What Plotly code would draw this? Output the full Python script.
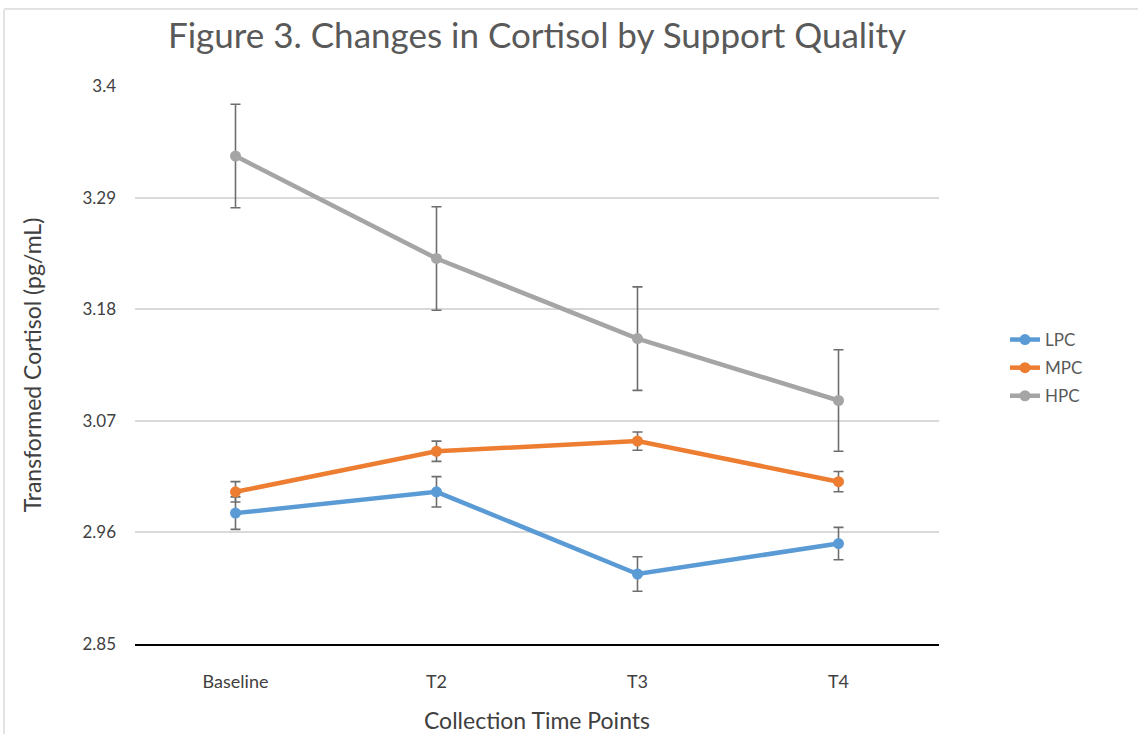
import plotly.graph_objects as go

categories = ["Baseline", "T2", "T3", "T4"]
lpc = [2.979, 3.000, 2.919, 2.949]
lpc_err = [0.016, 0.015, 0.017, 0.016]
mpc = [3.000, 3.040, 3.050, 3.010]
mpc_err = [0.010, 0.010, 0.009, 0.010]
hpc = [3.331, 3.230, 3.151, 3.090]
hpc_err = [0.051, 0.051, 0.051, 0.050]
y_ticks = [2.85, 2.96, 3.07, 3.18, 3.29, 3.4]
y_labels = ["2.85", "2.96", "3.07", "3.18", "3.29", "3.4"]

series = [("LPC", lpc, lpc_err, "#5b9bd5"),
          ("MPC", mpc, mpc_err, "#ed7d31"),
          ("HPC", hpc, hpc_err, "#a5a5a5")]

fig = go.Figure()
for name, vals, errs, col in series:
    fig.add_trace(go.Scatter(
        x=categories, y=vals, name=name, mode="lines+markers", legendgroup=name,
        line=dict(color=col, width=4.5),
        marker=dict(color=col, size=11, symbol="circle"),
        error_y=dict(type="data", array=errs, visible=True,
                     color="#6e6e6e", thickness=1.6, width=5),
    ))

W, H = 1138, 734
L, R, T, B = 135, 199, 86, 90
pw = W - L - R
ph = H - T - B

title_font = dict(family="Lato, sans-serif", size=23, color="#404040")

fig.update_layout(
    width=W, height=H,
    paper_bgcolor="white", plot_bgcolor="white",
    margin=dict(l=L, r=R, t=T, b=B),
    font=dict(family="Lato, sans-serif", color="#595959", size=14),
    title=dict(text="Figure 3. Changes in Cortisol by Support Quality",
               font=dict(family="Lato, Open Sans, sans-serif", size=35, color="#595959"),
               x=537 / W, xanchor="center", y=1 - 36 / H, yanchor="middle"),
    legend=dict(x=(1005 - L) / pw, y=1 - (322 - T) / ph, xanchor="left", yanchor="top",
                font=dict(family="Lato, sans-serif", size=17, color="#595959"),
                itemwidth=30, tracegroupgap=3, bgcolor="rgba(0,0,0,0)"),
    xaxis=dict(type="category", range=[-0.5, 3.5], showgrid=False, automargin=False,
               showline=True, linecolor="#000000", linewidth=2,
               ticks="", ticklabelstandoff=20,
               tickfont=dict(size=18, family="Lato, sans-serif", color="#404040"),
               title=dict(text="Collection Time Points", standoff=22, font=title_font)),
    yaxis=dict(range=[2.85, 3.4], tickvals=y_ticks, ticktext=y_labels, automargin=False,
               showgrid=True, gridcolor="#d9d9d9", gridwidth=1.5,
               zeroline=False, showline=False, ticks="", ticklabelstandoff=18,
               tickfont=dict(size=17, family="Lato, sans-serif", color="#404040"),
               title=dict(text="Transformed Cortisol (pg/mL)", standoff=34, font=title_font)),
    shapes=[dict(type="line", xref="paper", yref="paper",
                 x0=(4 - L) / pw, x1=(4 - L) / pw, y0=1 + (T - 10) / ph, y1=-(B) / ph,
                 line=dict(color="#d9d9d9", width=1.5)),
            dict(type="line", xref="paper", yref="paper",
                 x0=(4 - L) / pw, x1=(W - L) / pw, y0=1 + (T - 9) / ph, y1=1 + (T - 9) / ph,
                 line=dict(color="#d9d9d9", width=1.5))],
)

fig.write_html("out.html", config={"displayModeBar": False},
               post_script="document.body.style.margin='0';")
